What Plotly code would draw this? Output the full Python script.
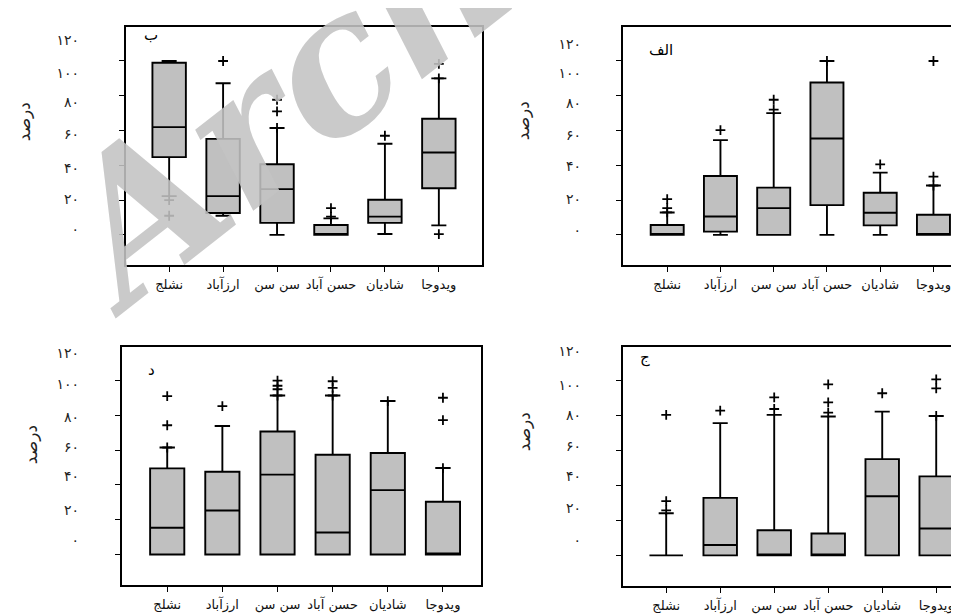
import plotly.graph_objects as go

# ---------------- data ----------------
categories = ["نشلج", "ارزآباد", "سن سن", "حسن آباد", "شادیان", "ویدوجا"]
y_tick_text = ["۱۲۰", "۱۰۰", "۸۰", "۶۰", "۴۰", "۲۰", "۰"]
y_title = "درصد"
panel_letters = ["ب", "الف", "د", "ج"]
watermark = "Archive"

# panel ب (top-left)
b_q1 = [44.7, 12.6, 6.9, 0, 6.9, 26.8]
b_med = [62, 22.3, 26.3, 0, 10.5, 47.4]
b_q3 = [99, 55.2, 40.6, 5.7, 20.2, 66.8]
b_low = [22.3, 11, 0, 0, 0.5, 5.5]
b_high = [100, 87.2, 61.5, 9.5, 52.4, 90]
b_out = [[20, 11], [100], [61.5, 71, 77.7], [10.5, 15.4], [57], [90, 98.3, 0.5]]

# panel الف (top-right)
a_q1 = [0, 1.9, 0, 17.1, 5.5, 0]
a_med = [0, 10.6, 15.4, 55.4, 12.7, 0]
a_q3 = [5.7, 33.9, 27.2, 87.6, 24.2, 11.6]
a_low = [0, 0, 0, 0, 0, 0]
a_high = [12.9, 54.5, 70, 100, 35.8, 28.4]
a_out = [[12.9, 15.4, 20.6], [60.2], [72, 77.7], [100], [40.6], [28.4, 33.5, 100]]

# panel د (bottom-left)
d_q1 = [0, 0, 0, 0, 0, 0]
d_med = [15.4, 25.3, 45.9, 12.6, 37, 0]
d_q3 = [49.5, 47.6, 70.7, 57.3, 58.3, 30.3]
d_low = [0, 0, 0, 0, 0, 0]
d_high = [61.5, 73.9, 91.4, 91.4, 88.2, 49.7]
d_out = [[61.5, 74.3, 91], [85.3], [91.4, 95, 97, 100], [91.4, 95.8, 99.6], [88.2], [49.7, 77.3, 90.1]]

# panel ج (bottom-right)
j_q1 = [0, 0, 0, 0, 0, 0]
j_med = [0, 5.9, 0, 0, 33.8, 15.4]
j_q3 = [0, 32.9, 14.4, 12.5, 55.1, 45.2]
j_low = [0, 0, 0, 0, 0, 0]
j_high = [24.1, 75.7, 80.4, 79.5, 82.3, 79.8]
j_out = [[25.7, 31, 80.4], [82.9], [83.8, 90.5], [81.7, 87.6, 97.9], [92.8], [79.8, 95.6, 100.8]]

# ---------------- layout constants ----------------
W, H = 959, 615
FONT = "DejaVu Sans"

def fx(px):
    return px / W

def fy(px):
    return 1 - px / H

panels = [
    dict(stats=(b_q1, b_med, b_q3, b_low, b_high, b_out), xd=(118, 474), yd=(15, 255),
         xr=[-0.8, 5.8], yr=[-17.5, 119.6], lab=[112, 93, 76.2, 57.9, 38.5, 20.7, 3.6], so=46,
         title=(16, 111), letter=(143, 23)),
    dict(stats=(a_q1, a_med, a_q3, a_low, a_high, a_out), xd=(615, 959), yd=(15, 255),
         xr=[-0.83, 5.63], yr=[-17.5, 119.6], lab=[109.9, 93.3, 75.6, 57.3, 39.6, 20.7, 2.5], so=41,
         title=(515, 110), letter=(653, 38)),
    dict(stats=(d_q1, d_med, d_q3, d_low, d_high, d_out), xd=(114, 473), yd=(337, 577),
         xr=[-0.82, 5.69], yr=[-17.7, 119.4], lab=[116, 97.7, 79, 62, 45, 25.7, 8], so=42,
         title=(23, 436), letter=(143, 360)),
    dict(stats=(j_q1, j_med, j_q3, j_low, j_high, j_out), xd=(615, 959), yd=(337, 578),
         xr=[-0.8, 5.57], yr=[-17.7, 119.4], lab=[117, 97.5, 80.4, 62.7, 45.5, 27, 9], so=41,
         title=(516, 423), letter=(637, 348)),
]

fig = go.Figure()
annotations = []
layout = {}

for i, p in enumerate(panels):
    n = i + 1
    xa = "x" if n == 1 else f"x{n}"
    ya = "y" if n == 1 else f"y{n}"
    q1, med, q3, low, high, outs = p["stats"]
    open_right = p["xd"][1] >= W

    fig.add_trace(go.Box(
        x=categories, q1=q1, median=med, q3=q3, lowerfence=low, upperfence=high,
        xaxis=xa, yaxis=ya, width=0.62, whiskerwidth=0.45,
        fillcolor="#c0c0c0", line=dict(color="black", width=1.9),
        boxpoints=False, showlegend=False, hoverinfo="skip",
    ))
    ox, oy = [], []
    for c, vals in zip(categories, outs):
        for v in vals:
            ox.append(c)
            oy.append(v)
    fig.add_trace(go.Scatter(
        x=ox, y=oy, mode="markers", xaxis=xa, yaxis=ya, showlegend=False, hoverinfo="skip",
        marker=dict(symbol="cross-thin-open", size=7, color="black",
                    line=dict(color="black", width=1.8)),
    ))

    xkey = "xaxis" if n == 1 else f"xaxis{n}"
    ykey = "yaxis" if n == 1 else f"yaxis{n}"
    layout[xkey] = dict(
        domain=[fx(p["xd"][0]), fx(p["xd"][1])], anchor=ya, type="category",
        categoryorder="array", categoryarray=categories, range=p["xr"],
        showline=True, mirror=True, linecolor="black", linewidth=2,
        ticks="outside", ticklen=5, tickcolor="black", tickwidth=1.3,
        showgrid=False, zeroline=False,
        tickfont=dict(family=FONT, size=13, color="#111"), ticklabelstandoff=1,
    )
    layout[ykey] = dict(
        domain=[fy(p["yd"][1]), fy(p["yd"][0])], anchor=xa, range=p["yr"],
        tickvals=[0, 20, 40, 60, 80, 100], showticklabels=False,
        showline=True, mirror=(not open_right), linecolor="black", linewidth=2,
        ticks="outside", ticklen=5, tickcolor="black", tickwidth=1.3,
        showgrid=False, zeroline=False,
    )
    lk = f"yaxis{n + 4}"
    layout[lk] = dict(
        overlaying=ya, anchor=xa, side="left", range=p["yr"],
        tickvals=p["lab"], ticktext=y_tick_text, ticks="", showline=False,
        showgrid=False, zeroline=False, ticklabelstandoff=p["so"],
        tickfont=dict(family=FONT, size=14, color="#222"),
    )
    fig.add_trace(go.Scatter(x=[categories[0]], y=[None], xaxis=xa, yaxis=f"y{n + 4}",
                             showlegend=False, hoverinfo="skip"))

    annotations.append(dict(
        text=y_title, textangle=-90, xref="paper", yref="paper",
        x=fx(p["title"][0]), y=fy(p["title"][1]), showarrow=False,
        font=dict(family=FONT, size=17, color="#222"), xanchor="center", yanchor="middle",
    ))
    annotations.append(dict(
        text=panel_letters[i], xref="paper", yref="paper",
        x=fx(p["letter"][0]), y=fy(p["letter"][1]), showarrow=False,
        font=dict(family=FONT, size=15, color="black"), xanchor="center", yanchor="middle",
    ))

annotations.append(dict(
    text="<b><i>" + watermark + "</i></b>", xref="paper", yref="paper",
    x=fx(392), y=fy(-2), showarrow=False, textangle=-38,
    font=dict(family="DejaVu Serif", size=192, color="rgba(195,195,195,0.88)"),
    xanchor="center", yanchor="middle",
))

fig.update_layout(
    width=W, height=H, margin=dict(l=0, r=0, t=0, b=0),
    paper_bgcolor="white", plot_bgcolor="white",
    annotations=annotations, **layout,
)

fig.write_html("out.html", config={"displayModeBar": False})
